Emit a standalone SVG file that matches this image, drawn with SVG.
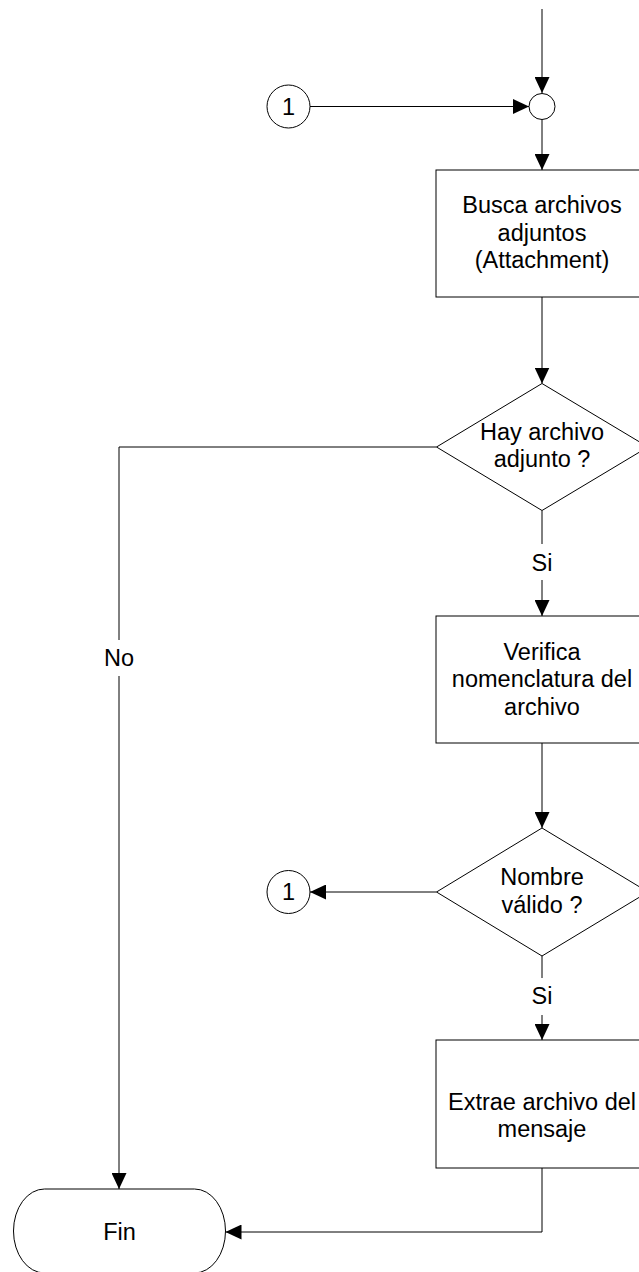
<svg xmlns="http://www.w3.org/2000/svg" width="639" height="1272" viewBox="0 0 639 1272">
  <style>
    .shape { fill: #ffffff; stroke: #000000; stroke-width: 1; }
    .line { fill: none; stroke: #000000; stroke-width: 1; }
    .label { font-family: "Liberation Sans", Arial, sans-serif; font-size: 23.5px; fill: #000000; text-anchor: middle; }
  </style>
  <defs>
    <marker id="arrow" markerUnits="userSpaceOnUse" markerWidth="16" markerHeight="15" refX="16" refY="7.5" orient="auto">
      <path d="M0,0 L16,7.5 L0,15 Z" fill="#000000"/>
    </marker>
  </defs>
  <rect width="639" height="1272" fill="#ffffff"/>

  <!-- connectors -->
  <g id="connectors">
    <line class="line" x1="542" y1="9" x2="542" y2="93" marker-end="url(#arrow)"/>
    <line class="line" x1="310" y1="106.5" x2="529" y2="106.5" marker-end="url(#arrow)"/>
    <line class="line" x1="542" y1="119.5" x2="542" y2="170" marker-end="url(#arrow)"/>
    <line class="line" x1="542" y1="297" x2="542" y2="383.5" marker-end="url(#arrow)"/>
    <!-- No branch -->
    <polyline class="line" points="436.5,447 119,447 119,640"/>
    <line class="line" x1="119" y1="676" x2="119" y2="1189" marker-end="url(#arrow)"/>
    <text class="label" x="119" y="666">No</text>
    <!-- Si branch 1 -->
    <line class="line" x1="542" y1="510.5" x2="542" y2="544"/>
    <line class="line" x1="542" y1="580" x2="542" y2="616" marker-end="url(#arrow)"/>
    <text class="label" x="542" y="571">Si</text>
    <line class="line" x1="542" y1="743" x2="542" y2="828" marker-end="url(#arrow)"/>
    <!-- invalid name back to connector 1 -->
    <line class="line" x1="436.5" y1="892" x2="310" y2="892" marker-end="url(#arrow)"/>
    <!-- Si branch 2 -->
    <line class="line" x1="542" y1="956" x2="542" y2="978"/>
    <line class="line" x1="542" y1="1015" x2="542" y2="1040" marker-end="url(#arrow)"/>
    <text class="label" x="542" y="1004">Si</text>
    <polyline class="line" points="542,1168 542,1232 225.5,1232" marker-end="url(#arrow)"/>
  </g>

  <g id="connector-in-top">
    <circle class="shape" cx="288.5" cy="106.5" r="21.5"/>
    <text class="label" x="288.5" y="114.5">1</text>
  </g>

  <g id="junction">
    <circle class="shape" cx="542" cy="106.5" r="13"/>
  </g>

  <g id="busca-adjuntos">
    <rect class="shape" x="436" y="170" width="212" height="127"/>
    <text class="label" x="542" y="213">Busca archivos</text>
    <text class="label" x="542" y="240.5">adjuntos</text>
    <text class="label" x="542" y="268">(Attachment)</text>
  </g>

  <g id="hay-adjunto">
    <polygon class="shape" points="542,383.5 648,447 542,510.5 436.5,447"/>
    <text class="label" x="542" y="439.5">Hay archivo</text>
    <text class="label" x="542" y="467">adjunto ?</text>
  </g>

  <g id="verifica-nomenclatura">
    <rect class="shape" x="436" y="616" width="212" height="127"/>
    <text class="label" x="542" y="659.5">Verifica</text>
    <text class="label" x="542" y="687">nomenclatura del</text>
    <text class="label" x="542" y="714.5">archivo</text>
  </g>

  <g id="nombre-valido">
    <polygon class="shape" points="542,828 648,892 542,956 436.5,892"/>
    <text class="label" x="542" y="885">Nombre</text>
    <text class="label" x="542" y="913">válido ?</text>
  </g>

  <g id="connector-out">
    <circle class="shape" cx="288.5" cy="892" r="21.5"/>
    <text class="label" x="288.5" y="900">1</text>
  </g>

  <g id="extrae-archivo">
    <rect class="shape" x="436" y="1040" width="212" height="128"/>
    <text class="label" x="542" y="1109.5">Extrae archivo del</text>
    <text class="label" x="542" y="1137">mensaje</text>
  </g>

  <g id="fin">
    <rect class="shape" x="13.5" y="1189" width="212" height="84" rx="31" ry="42"/>
    <text class="label" x="119.5" y="1239.5">Fin</text>
  </g>
</svg>
